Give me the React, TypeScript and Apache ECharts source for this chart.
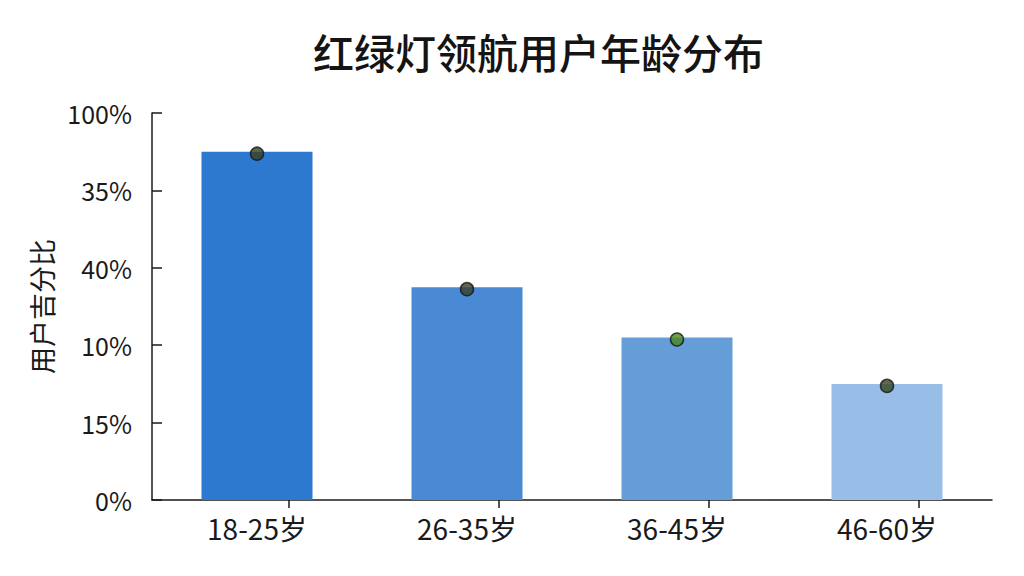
import React, { useEffect, useRef } from 'react';
import * as echarts from 'echarts';

// 年龄段
const ageGroups = ['18-25岁', '26-35岁', '36-45岁', '46-60岁'];
// 用户占比 (%)
const shares = [45, 27.5, 21, 15];
// 柱子颜色（由深到浅）
const barColors = ['#2d79cf', '#4a8ad5', '#659dd8', '#98bee7'];
// 圆点颜色
const dotColors = ['#3a4022', '#363f2c', '#4a8a1c', '#34461f'];
// 纵轴刻度文字（按原图）
const yTickLabels = ['0%', '15%', '10%', '40%', '35%', '100%'];

const FONT = '"Noto Sans CJK SC", "Noto Sans", sans-serif';

const App: React.FC = () => {
  const chartRef = useRef<HTMLDivElement>(null);

  useEffect(() => {
    if (!chartRef.current) return;
    const chart = echarts.init(chartRef.current, undefined, { renderer: 'svg' });

    const option = {
      animation: false,
      backgroundColor: '#ffffff',
      textStyle: { fontFamily: FONT },
      title: {
        text: '红绿灯领航用户年龄分布',
        left: 308,
        top: 25,
        textStyle: { fontSize: 41, fontWeight: 500, color: '#141414', fontFamily: FONT }
      },
      grid: [
        { left: 152, right: 32, top: 113, bottom: 76 },
        // 仅用于绘制偏移的 x 轴刻度线
        { left: 184, right: 0, top: 113, bottom: 76 }
      ],
      xAxis: [
        {
          type: 'category',
          gridIndex: 0,
          data: ageGroups,
          axisLine: { lineStyle: { color: '#1a1a1a', width: 1.5 } },
          axisTick: { show: false },
          axisLabel: { fontSize: 28, color: '#1a1a1a', margin: 14, fontFamily: FONT }
        },
        {
          type: 'category',
          gridIndex: 1,
          data: ageGroups,
          axisLine: { show: false },
          axisLabel: { show: false },
          axisTick: { show: true, alignWithLabel: true, length: 8, lineStyle: { color: '#1a1a1a', width: 1.5 } }
        }
      ],
      yAxis: [
        {
          type: 'value',
          gridIndex: 0,
          min: 0,
          max: 50,
          interval: 10,
          name: '用户吉分比',
          nameLocation: 'middle',
          nameGap: 97,
          nameRotate: 90,
          nameTextStyle: { fontSize: 27, color: '#1a1a1a', fontFamily: FONT },
          axisLine: { show: true, lineStyle: { color: '#1a1a1a', width: 1.5 } },
          axisTick: { show: true, inside: true, length: 10, lineStyle: { color: '#1a1a1a', width: 1.5 } },
          splitLine: { show: false },
          axisLabel: {
            fontSize: 25,
            color: '#1a1a1a',
            margin: 20,
            fontFamily: FONT,
            formatter: (v: number) => yTickLabels[Math.round(v / 10)] ?? ''
          }
        },
        { type: 'value', gridIndex: 1, show: false, min: 0, max: 50 }
      ],
      series: [
        {
          type: 'bar',
          xAxisIndex: 0,
          yAxisIndex: 0,
          barWidth: 111,
          data: shares.map((v, i) => ({ value: v, itemStyle: { color: barColors[i] } }))
        },
        {
          type: 'scatter',
          xAxisIndex: 0,
          yAxisIndex: 0,
          symbolSize: 13,
          symbolOffset: [0, 2],
          z: 5,
          data: shares.map((v, i) => ({
            value: v,
            itemStyle: { color: dotColors[i], borderColor: '#161616', borderWidth: 1.5 }
          }))
        }
      ]
    };

    chart.setOption(option);
    return () => chart.dispose();
  }, []);

  return (
    <div
      ref={chartRef}
      style={{ position: 'fixed', left: 0, top: 0, width: '1024px', height: '576px' }}
    />
  );
};

export default App;
